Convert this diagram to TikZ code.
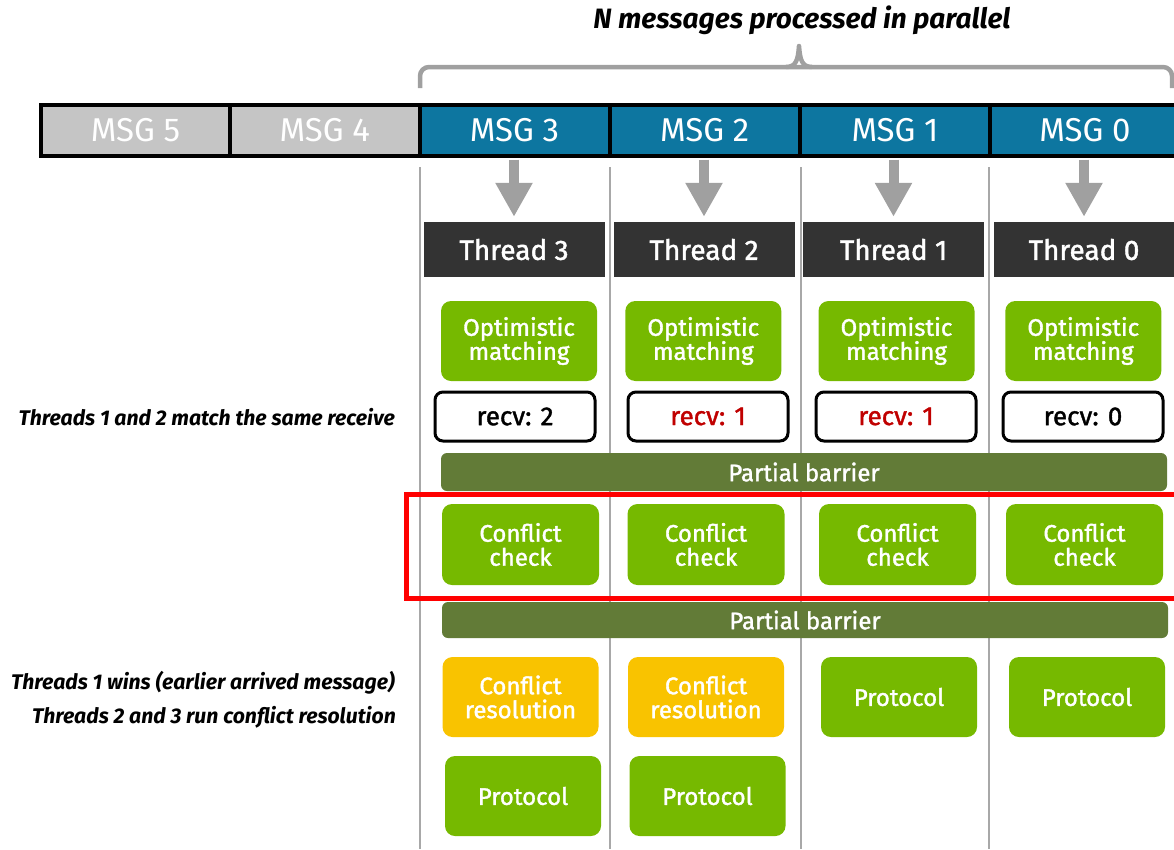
\documentclass[tikz,border=0pt]{standalone}
\usepackage{fontspec}
\setmainfont{Fira Sans}
\newfontfamily\boxfont{Fira Sans}[FakeBold=1.5]
\usetikzlibrary{arrows.meta}

\definecolor{nvgreen}{HTML}{76B900}
\definecolor{barolive}{HTML}{627B37}
\definecolor{resyellow}{HTML}{F9C300}
\definecolor{msgblue}{HTML}{0D76A0}
\definecolor{msggray}{HTML}{C5C5C5}
\definecolor{thrdark}{HTML}{333333}
\definecolor{recvred}{HTML}{C00000}
\definecolor{sepgray}{HTML}{A8A8A8}
\definecolor{arrowgray}{HTML}{A0A0A0}
\definecolor{framered}{HTML}{FF0000}

\begin{document}
\begin{tikzpicture}[x=1pt,y=-1pt,
  msgcell/.style={draw=black, line width=4pt, minimum height=50.8pt, inner sep=0pt,
    text=white, font=\fontsize{33}{33}\selectfont},
  oldmsg/.style={msgcell, fill=msggray},
  newmsg/.style={msgcell, fill=msgblue},
  thread/.style={fill=thrdark, minimum width=181pt, minimum height=55pt, inner sep=0pt,
    text=white, font=\boxfont\fontsize{28}{28}\selectfont},
  stagebox/.style={rounded corners=10pt, minimum width=156pt, minimum height=80pt,
    inner sep=0pt, text=white, align=center, font=\boxfont\fontsize{24}{24}\selectfont},
  greenbox/.style={stagebox, fill=nvgreen},
  yellowbox/.style={stagebox, fill=resyellow},
  recvbox/.style={draw=black, line width=3pt, fill=white, rounded corners=8pt,
    minimum width=160pt, minimum height=49pt, inner sep=0pt,
    font=\boxfont\fontsize{26}{26}\selectfont},
  barrier/.style={fill=barolive, rounded corners=6pt, minimum width=726pt, inner sep=0pt,
    text=white, font=\boxfont\fontsize{24}{24}\selectfont},
  note/.style={anchor=east, inner sep=0pt, font=\fontsize{21.2}{21.2}\selectfont\bfseries\itshape},
  garrow/.style={draw=arrowgray, line width=10pt, -{Triangle[width=35pt,length=34pt]},
    shorten <=2pt, shorten >=5pt},
  colsep/.style={draw=sepgray, line width=2pt},
  brace/.style={draw=arrowgray, line width=4.5pt, rounded corners=9pt}
]
\useasboundingbox (0,0) rectangle (1174,849);
\clip (0,0) rectangle (1174,849);

% heading and its brace
\node[inner sep=0pt, font=\fontsize{28}{28}\selectfont\bfseries\itshape] (title) at (802,20)
  {N messages processed in parallel};
\draw[brace] (420,88) -- (420,67) -- (1172,67) -- (1172,88);
\draw[draw=arrowgray, line width=4.5pt, line join=round]
  (786,67) .. controls (796,67) and (798,60) .. (799,46)
  .. controls (800,60) and (802,67) .. (812,67);

% column separators
\foreach \x in {420,610,801,989}
  \draw[colsep] (\x,167) -- (\x,849);

% message queue
\node[oldmsg, minimum width=189pt]   (m5) at (135.5,130.1) {MSG 5};
\node[oldmsg, minimum width=189.5pt] (m4) at (324.75,130.1) {MSG 4};
\node[newmsg, minimum width=190pt]   (m3) at (514.5,130.1) {MSG 3};
\node[newmsg, minimum width=190.5pt] (m2) at (704.75,130.1) {MSG 2};
\node[newmsg, minimum width=190pt]   (m1) at (895,130.1) {MSG 1};
\node[newmsg, minimum width=194pt]   (m0) at (1087,130.1) {\hspace*{-4pt}MSG 0};

% threads
\node[thread] (t3) at (514,249.5) {Thread 3};
\node[thread] (t2) at (704,249.5) {Thread 2};
\node[thread] (t1) at (893.5,249.5) {Thread 1};
\node[thread] (t0) at (1084,249.5) {Thread 0};

\foreach \i in {3,2,1,0}
  \draw[garrow] (m\i.south -| t\i.north) -- (t\i.north);

% optimistic matching
\node[greenbox] (o3) at (519,341) {Optimistic\\matching};
\node[greenbox] (o2) at (703.3,341) {Optimistic\\matching};
\node[greenbox] (o1) at (896.5,341) {Optimistic\\matching};
\node[greenbox] (o0) at (1083.3,341) {Optimistic\\matching};

% matched receives
\node[recvbox] (r3) at (515,416.5) {recv: 2};
\node[recvbox, text=recvred] (r2) at (708,416.5) {recv: 1};
\node[recvbox, text=recvred] (r1) at (896,416.5) {recv: 1};
\node[recvbox] (r0) at (1083,416.5) {recv: 0};

\node[note] (n1) at (395,417) {Threads 1 and 2 match the same receive};

% first barrier
\node[barrier, minimum height=38pt] (b1) at (804,472) {Partial barrier};

% conflict check stage
\draw[draw=framered, line width=5pt] (406,494) rectangle (1185,598);
\node[greenbox, minimum width=157pt, minimum height=81pt] (c3) at (520.5,544.5) {Conflict\\check};
\node[greenbox, minimum width=157pt, minimum height=81pt] (c2) at (706,544.5) {Conflict\\check};
\node[greenbox, minimum width=157pt, minimum height=81pt] (c1) at (897.5,544.5) {Conflict\\check};
\node[greenbox, minimum width=157pt, minimum height=81pt] (c0) at (1084.5,544.5) {Conflict\\check};

% second barrier
\node[barrier, minimum height=36pt] (b2) at (805,620) {Partial barrier};

% resolution and protocol
\node[yellowbox] (y3) at (520.5,697) {Conflict\\resolution};
\node[yellowbox] (y2) at (706,697) {Conflict\\resolution};
\node[greenbox] (p1) at (899,697) {Protocol};
\node[greenbox] (p0) at (1087,697) {Protocol};
\node[greenbox] (q3) at (523,796) {Protocol};
\node[greenbox] (q2) at (707.5,796) {Protocol};

\node[note] (n2) at (395,683) {Threads 1 wins (earlier arrived message)};
\node[note] (n3) at (396,717) {Threads 2 and 3 run conflict resolution};
\end{tikzpicture}
\end{document}
